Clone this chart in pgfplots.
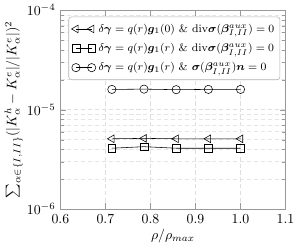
\documentclass[border=0pt]{standalone}
\usepackage{pgfplots}
\pgfplotsset{compat=1.18}
\usepackage{amsmath}
\usepackage{bm}
\begin{document}
\begin{tikzpicture}
\begin{axis}[
  scale only axis,
  width=163pt, height=144pt,
  ymode=log,
  xmin=0.6, xmax=1.1, ymin=1e-6, ymax=1e-4,
  xtick={0.6,0.7,0.8,0.9,1.0,1.1},
  xticklabels={0.6,0.7,0.8,0.9,1.0,1.1},
  ytick={1e-6,1e-5,1e-4},
  grid=both,
  major grid style={densely dashed, gray!25},
  minor grid style={densely dashed, gray!20},
  minor x tick num=0,
  axis line style={gray!80},
  tick style={gray!80},
  xlabel={$\rho/\rho_{max}$},
  ylabel={$\sum_{\alpha\in\{I,II\}}(|K^h_\alpha-K^e_\alpha|/|K^e_\alpha|)^2$},
  xlabel style={yshift=3pt},
  ylabel style={yshift=-4pt},
  legend style={at={(0.976,0.968)}, anchor=north east, draw=gray!60, rounded corners=2pt, font=\footnotesize, row sep=2.5pt, inner ysep=3pt, inner xsep=2pt},
  legend cell align=left,
  legend image code/.code={\draw[#1] plot coordinates {(0cm,0cm) (0.4cm,0cm)};},
]
\addplot[black, thin, mark=triangle, mark size=3.2pt, mark options={rotate=90, fill=white, solid}] coordinates {
  (0.7143,5.1e-6) (0.7857,5.15e-6) (0.8571,5.1e-6) (0.9286,5.1e-6) (1.0,5.1e-6)};
\addlegendentry{$\delta\bm{\gamma}=q(r)\bm{g}_1(0)$ \& $\mathrm{div}\bm{\sigma}(\bm{\beta}^{aux}_{I,II})=0$}
\addplot[black, thin, mark=square, mark size=2.8pt, mark options={fill=white, solid}] coordinates {
  (0.7143,4.1e-6) (0.7857,4.25e-6) (0.8571,4.1e-6) (0.9286,4.1e-6) (1.0,4.1e-6)};
\addlegendentry{$\delta\bm{\gamma}=q(r)\bm{g}_1(r)$ \& $\mathrm{div}\bm{\sigma}(\bm{\beta}^{aux}_{I,II})=0$}
\addplot[black, thin, mark=o, mark size=3pt, mark options={fill=white, solid}] coordinates {
  (0.7143,1.60e-5) (0.7857,1.61e-5) (0.8571,1.59e-5) (0.9286,1.60e-5) (1.0,1.60e-5)};
\addlegendentry{$\delta\bm{\gamma}=q(r)\bm{g}_1(r)$ \& $\bm{\sigma}(\bm{\beta}^{aux}_{I,II})\bm{n}=0$}
\end{axis}
\end{tikzpicture}
\end{document}
